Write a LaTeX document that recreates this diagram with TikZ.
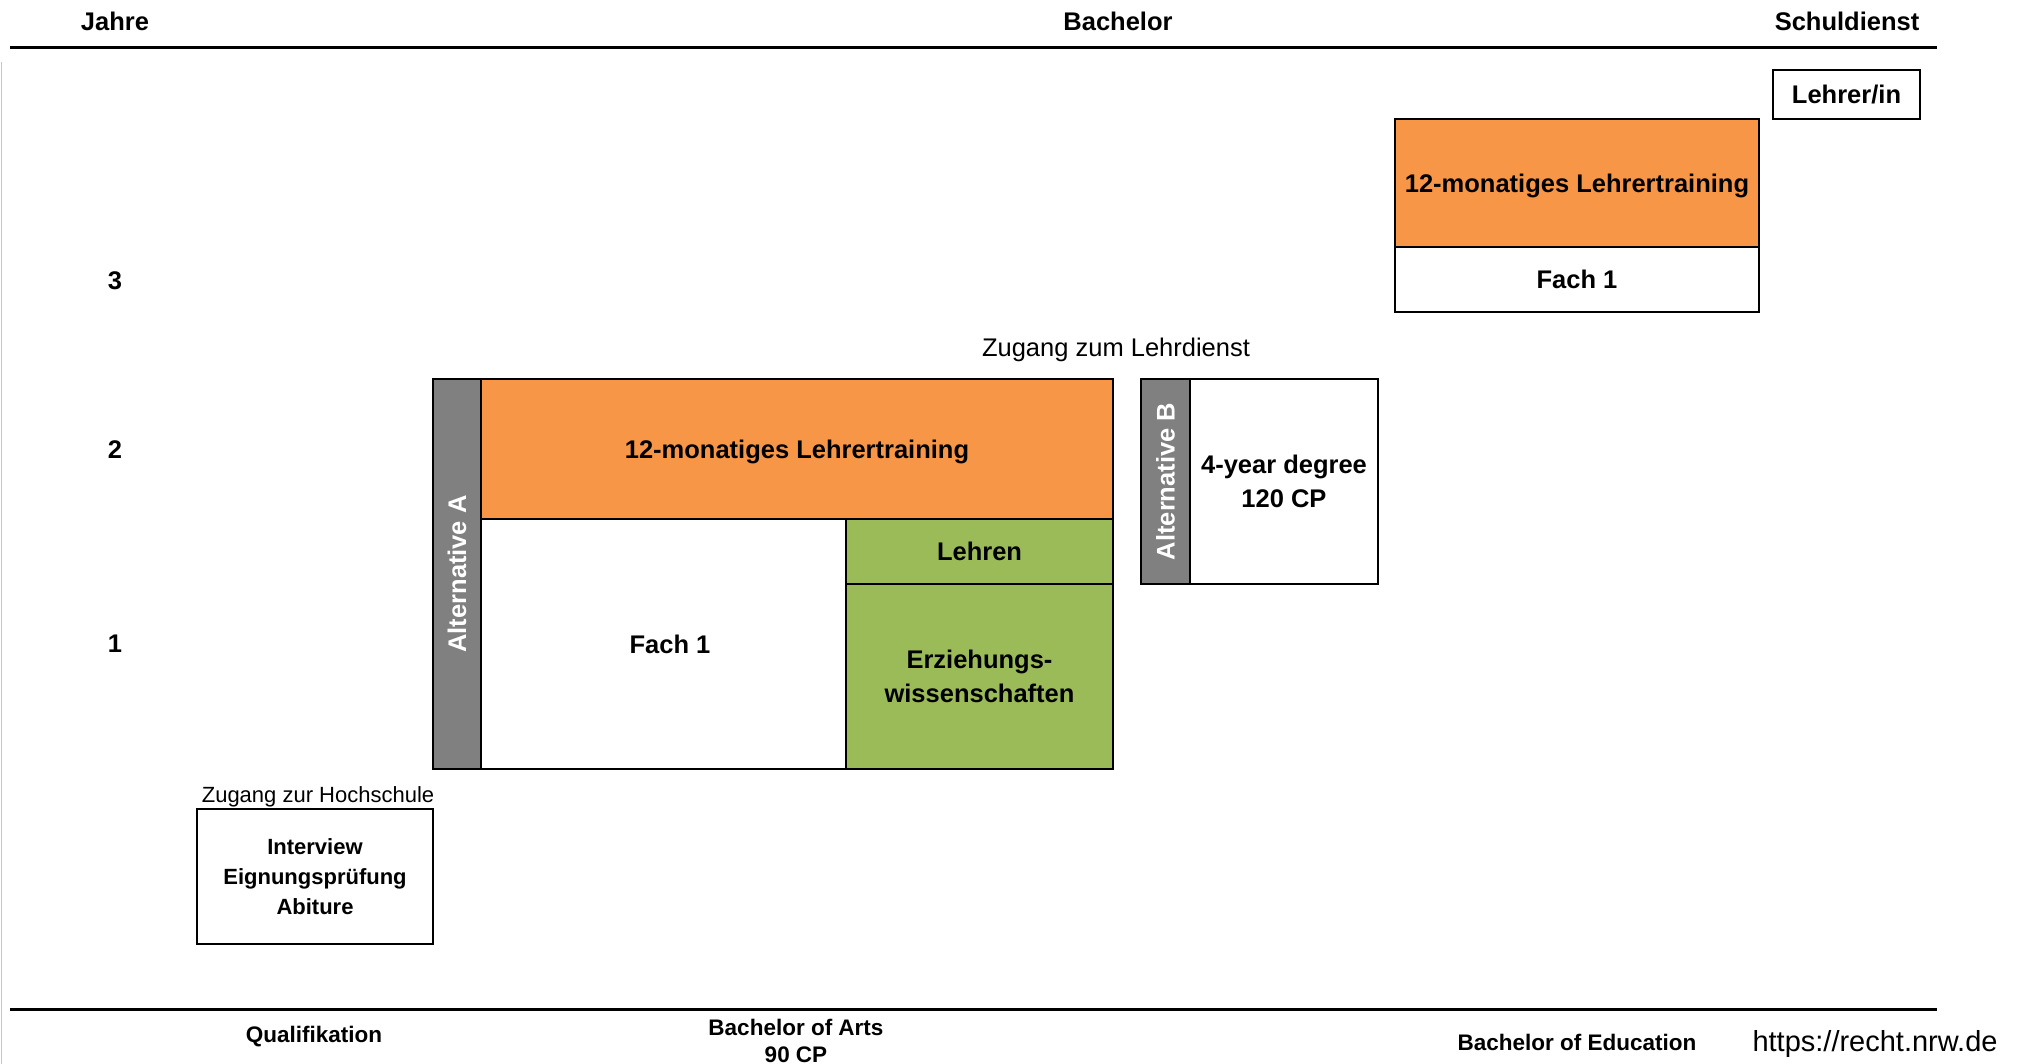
\documentclass[tikz,border=0pt]{standalone}
\usepackage{fontspec}
\setmainfont{Liberation Sans}
\definecolor{orng}{HTML}{F79646}
\definecolor{grn}{HTML}{9BBB59}
\definecolor{gbar}{HTML}{808080}
\newcommand\myfsA{\fontsize{25.5}{34}\selectfont}
\newcommand\myfsB{\fontsize{22}{30}\selectfont}
\newcommand\myfsC{\fontsize{22.5}{28}\selectfont}
\newcommand\myfsD{\fontsize{29}{34}\selectfont}
\tikzset{
  box/.style={draw, line width=2.5pt, align=center, inner sep=0pt, font=\myfsA\bfseries, text=black},
  obox/.style={box, fill=orng, text depth=0pt},
  gbox/.style={box, fill=grn},
  wbox/.style={box, fill=white},
  barbox/.style={box, fill=gbar, text=white, rotate=90},
  head/.style={font=\myfsA\bfseries, inner sep=0pt},
  foot/.style={font=\myfsC\bfseries, inner sep=0pt, align=center},
  note/.style={inner sep=0pt},
  rule/.style={line width=3pt}
}
\begin{document}
\begin{tikzpicture}[x=1pt,y=-1pt]
\useasboundingbox (0,0) rectangle (2020,1064);
% frame lines
\coordinate (tl) at (10,48); \coordinate (tr) at (1937,48);
\coordinate (bl) at (10,1009); \coordinate (br) at (1937,1009);
\coordinate (vl1) at (1.5,62); \coordinate (vl2) at (1.5,1064);
\draw[rule] (tl) -- (tr);
\draw[rule] (bl) -- (br);
\draw[gray!45, line width=1pt] (vl1) -- (vl2);
% headers
\node[head] (hj) at (115,21) {Jahre};
\node[head] (hb) at (1118,21) {Bachelor};
\node[head] (hs) at (1847,21) {Schuldienst};
% years
\node[head] (y3) at (115,281) {3};
\node[head] (y2) at (115,450) {2};
\node[head] (y1) at (115,644) {1};
% Schuldienst
\node[wbox, minimum width=147, minimum height=49] (lehrer) at (1846.5,94.5) {Lehrer/in};
% Bachelor of Education
\node[obox, minimum width=364, minimum height=128] (bedtrain) at (1577,183) {12-monatiges Lehrertraining};
\node[wbox, minimum width=364, minimum height=65] (bedfach) at (1577,279.5) {Fach 1};
% Alternative A
\node[barbox, minimum width=390, minimum height=48] (alta) at (457,574) {Alternative A};
\node[obox, minimum width=632, minimum height=140] (atrain) at (797,449) {12-monatiges Lehrertraining};
\node[wbox, minimum width=365, minimum height=250] (afach) at (663.5,644) {\hspace*{13pt}Fach 1};
\node[gbox, minimum width=267, minimum height=65] (lehren) at (979.5,551.5) {Lehren};
\node[gbox, minimum width=267, minimum height=185] (erz) at (979.5,676.5) {Erziehungs-\\wissenschaften};
% Alternative B
\node[note, font=\myfsA] (zld) at (1116,350) {Zugang zum Lehrdienst};
\node[barbox, minimum width=205, minimum height=49] (altb) at (1165.5,481.5) {Alternative B};
\node[wbox, minimum width=188, minimum height=205] (deg) at (1284,481.5) {4-year degree\\120 CP};
% Qualifikation
\node[note, font=\myfsB] (zhs) at (318,797) {Zugang zur Hochschule};
\node[wbox, font=\myfsB\bfseries, minimum width=236, minimum height=135] (qual) at (315,876.5) {Interview\\Eignungsprüfung\\Abiture};
% footer
\node[foot] (fq) at (314,1037) {Qualifikation};
\node[foot] (fba) at (796,1027) {Bachelor of Arts};
\node[foot] (fcp) at (796,1055) {90 CP};
\node[foot] (fbe) at (1577,1042) {Bachelor of Education};
\node[note, font=\myfsD] (url) at (1875,1044) {https://recht.nrw.de};
\end{tikzpicture}
\end{document}
